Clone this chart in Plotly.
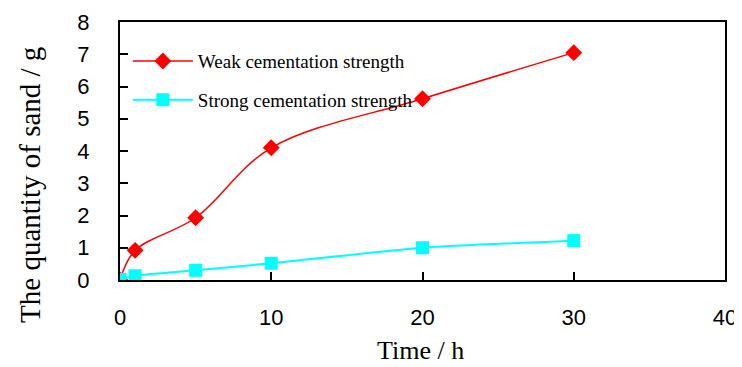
import plotly.graph_objects as go

time_h = [0, 1, 5, 10, 20, 30]
weak = [0.0, 0.92, 1.93, 4.10, 5.62, 7.05]
strong = [0.02, 0.13, 0.30, 0.52, 1.00, 1.22]
x_ticks = [0, 10, 20, 30, 40]
y_ticks = [0, 1, 2, 3, 4, 5, 6, 7, 8]

fig = go.Figure()
fig.add_trace(go.Scatter(
    x=time_h, y=weak, mode="lines+markers", name="Weak cementation strength",
    legendgroup="a",
    line=dict(color="#ff0000", width=1.5, shape="spline", smoothing=1.0),
    marker=dict(symbol="diamond", size=13, color="#ff0000"),
))
fig.add_trace(go.Scatter(
    x=time_h, y=strong, mode="lines+markers", name="Strong cementation strength",
    legendgroup="b",
    line=dict(color="#00ffff", width=2, shape="spline", smoothing=0.6),
    marker=dict(symbol="square", size=13, color="#00ffff"),
))

axis_common = dict(
    showline=True, linecolor="black", linewidth=2, mirror=True,
    ticks="inside", ticklen=8, tickwidth=1.5, tickcolor="black",
    showgrid=False, zeroline=False, automargin=False,
    tickfont=dict(family="Liberation Sans, Arial", size=22, color="black"),
)

fig.update_xaxes(range=[0, 40], tickvals=x_ticks, ticktext=[str(v) for v in x_ticks],
                 ticklabelstandoff=17, **axis_common)
fig.update_yaxes(range=[0, 8], tickvals=y_ticks, ticktext=[str(v) for v in y_ticks],
                 ticklabelstandoff=24, **axis_common)

# page body adds 8px offset; figure sized accordingly
fig.add_annotation(text="The quantity of sand / g", textangle=-90,
                   xref="paper", yref="paper", x=-0.149, y=0.368,
                   xanchor="center", yanchor="middle", showarrow=False,
                   font=dict(family="Liberation Serif, Times New Roman", size=29, color="black"))
fig.add_annotation(text="Time / h", xref="paper", yref="paper", x=0.496, y=-0.275,
                   xanchor="center", yanchor="middle", showarrow=False,
                   font=dict(family="Liberation Serif, Times New Roman", size=26, color="black"))

fig.update_layout(
    width=734, height=359,
    margin=dict(l=112, r=17, t=14, b=87, autoexpand=False),
    paper_bgcolor="white", plot_bgcolor="white",
    showlegend=True,
    legend=dict(x=0.013, y=0.922, xanchor="left", yanchor="top",
                bgcolor="rgba(0,0,0,0)", traceorder="grouped", tracegroupgap=11,
                font=dict(family="Liberation Serif, Times New Roman", size=19, color="black"),
                itemwidth=60),
)

fig.write_html("out.html")
